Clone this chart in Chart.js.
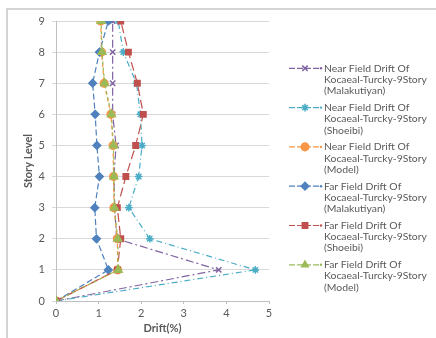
<!DOCTYPE html>
<html>
<head>
<meta charset="utf-8">
<script src="https://cdn.jsdelivr.net/npm/chart.js@4.4.0/dist/chart.umd.min.js"></script>
<style>
  html, body { margin: 0; padding: 0; background: #fff; }
  #wrap { width: 436px; height: 338px; position: relative; }
</style>
</head>
<body>
<div id="wrap"><canvas id="chart" width="436" height="338"></canvas></div>
<script>
'use strict';

// story levels (y) and drift values (x, %) per series
const storyLevels = [0, 1, 2, 3, 4, 5, 6, 7, 8, 9];
const nearMalakutiyan = [0, 3.82, 1.42, 1.38, 1.36, 1.41, 1.33, 1.33, 1.33, 1.33];
const nearShoeibi = [0, 4.68, 2.2, 1.71, 1.94, 2.02, 1.98, 1.89, 1.58, 1.46];
const nearModel = [0, 1.45, 1.44, 1.36, 1.35, 1.34, 1.29, 1.13, 1.07, 1.05];
const farMalakutiyan = [0, 1.23, 0.95, 0.91, 1.02, 0.96, 0.92, 0.86, 1.02, 1.23];
const farShoeibi = [0, 1.44, 1.52, 1.44, 1.64, 1.87, 2.05, 1.91, 1.7, 1.52];
const farModel = [0, 1.46, 1.45, 1.37, 1.36, 1.35, 1.3, 1.14, 1.08, 1.06];

const seriesLabels = [
  ['Near Field Drift Of', 'Kocaeal-Turcky-9Story', '(Malakutiyan)'],
  ['Near Field Drift Of', 'Kocaeal-Turcky-9Story', '(Shoeibi)'],
  ['Near Field Drift Of', 'Kocaeal-Turcky-9Story', '(Model)'],
  ['Far Field Drift Of', 'Kocaeal-Turcky-9Story', '(Malakutiyan)'],
  ['Far Field Drift Of', 'Kocaeal-Turcky-9Story', '(Shoeibi)'],
  ['Far Field Drift Of', 'Kocaeal-Turcky-9Story', '(Model)']
];
const xTicks = [0, 1, 2, 3, 4, 5];
const yTicks = [0, 1, 2, 3, 4, 5, 6, 7, 8, 9];

const seriesValues = [nearMalakutiyan, nearShoeibi, nearModel, farMalakutiyan, farShoeibi, farModel];
const colors = ['#8064A2', '#4BACC6', '#F79646', '#4F81BD', '#C0504D', '#9BBB59'];
const markers = ['crossRot', 'star', 'circle', 'rectRot', 'rect', 'triangle'];
const dashes = [[8, 3, 2, 3], [6, 3, 1, 3], [4, 3], [6, 3], [9, 4], [3, 3]];

const FONT = 'Lato, "Open Sans", sans-serif';
const GREY = '#595959';

const datasets = seriesValues.map(function (vals, i) {
  return {
    label: seriesLabels[i].join(' '),
    data: vals.map(function (v, k) { return { x: v, y: storyLevels[k] }; }),
    showLine: true,
    order: seriesValues.length - i,
    borderColor: colors[i],
    backgroundColor: colors[i],
    borderWidth: 1.2,
    borderDash: dashes[i],
    pointStyle: markers[i],
    pointRadius: i === 5 ? 4.5 : 3.8,
    pointBorderWidth: 1.5,
    pointBorderColor: colors[i],
    pointBackgroundColor: colors[i]
  };
});

// chart outline like the spreadsheet frame
const framePlugin = {
  id: 'frame',
  beforeDraw: function (chart) {
    const ctx = chart.ctx;
    ctx.save();
    ctx.fillStyle = '#fff';
    ctx.fillRect(0, 0, chart.width, chart.height);
    ctx.strokeStyle = '#d4d4d4';
    ctx.lineWidth = 2;
    ctx.strokeRect(7, 9, chart.width + 10, chart.height + 10);
    ctx.restore();
  }
};

// legend with three text lines per entry
const legendPlugin = {
  id: 'multiLegend',
  afterDraw: function (chart) {
    const ctx = chart.ctx;
    ctx.save();
    chart.data.datasets.forEach(function (ds, i) {
      const y = 68.3 + i * 39.3;
      ctx.strokeStyle = ds.borderColor;
      ctx.lineWidth = 1.2;
      ctx.setLineDash([6, 2]);
      ctx.beginPath();
      ctx.moveTo(289, y);
      ctx.lineTo(319, y);
      ctx.stroke();
      ctx.setLineDash([]);
      ctx.fillStyle = ds.borderColor;
      ctx.beginPath();
      ctx.arc(321, y, 1.2, 0, Math.PI * 2);
      ctx.fill();
      ctx.lineWidth = 1.5;
      ctx.strokeStyle = ds.borderColor;
      Chart.helpers.drawPoint(ctx, { pointStyle: ds.pointStyle, radius: 3.8, borderWidth: 1.5, rotation: 0 }, 305, y);
      ctx.fillStyle = GREY;
      ctx.font = '10.4px ' + FONT;
      ctx.textBaseline = 'middle';
      ctx.textAlign = 'left';
      seriesLabels[i].forEach(function (line, k) {
        ctx.fillText(line, 324, y + k * 11.3);
      });
    });
    ctx.restore();
  }
};

new Chart(document.getElementById('chart'), {
  type: 'scatter',
  data: { datasets: datasets },
  plugins: [framePlugin, legendPlugin],
  options: {
    responsive: false,
    animation: false,
    devicePixelRatio: 1,
    layout: { padding: { left: 17, right: 167, top: 21, bottom: 3 } },
    plugins: {
      legend: { display: false },
      tooltip: { enabled: false }
    },
    scales: {
      x: {
        type: 'linear',
        min: xTicks[0],
        max: xTicks[xTicks.length - 1],
        afterBuildTicks: function (s) { s.ticks = xTicks.map(function (v) { return { value: v }; }); },
        grid: { display: true, drawOnChartArea: false, drawTicks: true, tickLength: 3, color: '#bfbfbf' },
        border: { color: '#bfbfbf', width: 1 },
        ticks: { color: GREY, font: { family: FONT, size: 11 }, padding: 3, maxRotation: 0 },
        title: { display: true, text: 'Drift(%)', color: GREY, font: { family: FONT, size: 11, weight: 'bold' }, padding: { top: 2, bottom: 0 } },
        afterFit: function (s) { s.height = 34; }
      },
      y: {
        type: 'linear',
        min: yTicks[0],
        max: yTicks[yTicks.length - 1],
        afterBuildTicks: function (s) { s.ticks = yTicks.map(function (v) { return { value: v }; }); },
        grid: { color: '#d9d9d9', tickLength: 4, lineWidth: 1 },
        border: { color: '#bfbfbf', width: 1 },
        ticks: { color: GREY, font: { family: FONT, size: 11 }, padding: 7 },
        title: { display: true, text: 'Story Level', color: GREY, font: { family: FONT, size: 11, weight: 'bold' }, padding: { top: 5, bottom: 0 } },
        afterFit: function (s) { s.width = 39; }
      }
    }
  }
});
</script>
</body>
</html>
